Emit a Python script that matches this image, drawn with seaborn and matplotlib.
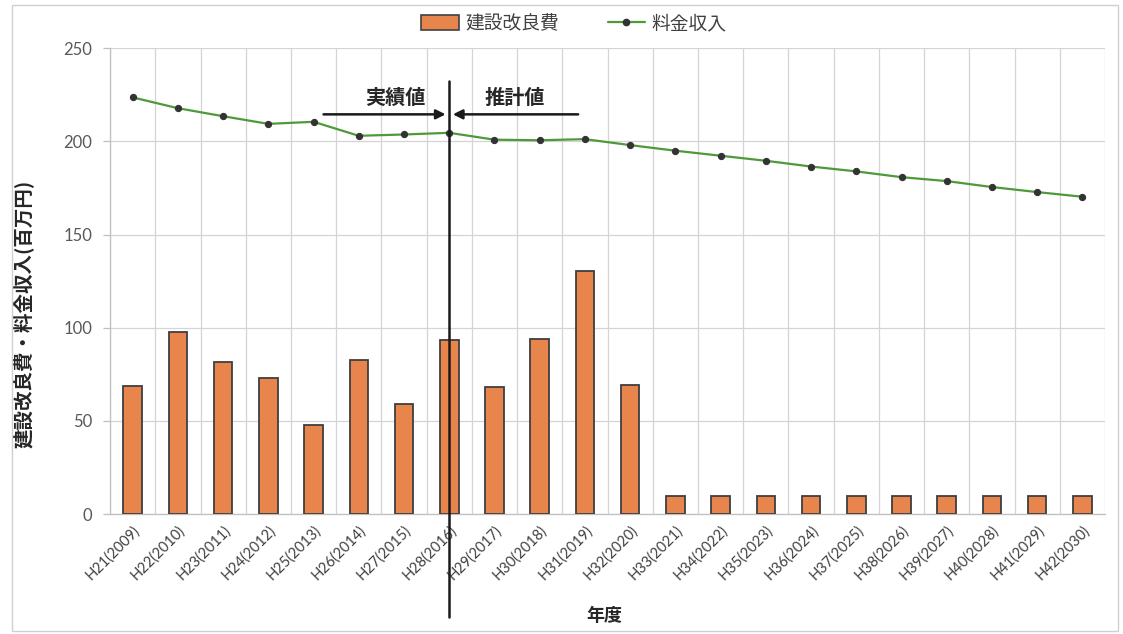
import numpy as np
import pandas as pd
import matplotlib
matplotlib.use("Agg")
import matplotlib.pyplot as plt
import matplotlib.transforms as mtransforms
from matplotlib.lines import Line2D
from matplotlib.patches import Patch, Rectangle
import seaborn as sns

# Fiscal years (Japanese era + western year)
years = ["H21(2009)", "H22(2010)", "H23(2011)", "H24(2012)", "H25(2013)",
         "H26(2014)", "H27(2015)", "H28(2016)", "H29(2017)", "H30(2018)",
         "H31(2019)", "H32(2020)", "H33(2021)", "H34(2022)", "H35(2023)",
         "H36(2024)", "H37(2025)", "H38(2026)", "H39(2027)", "H40(2028)",
         "H41(2029)", "H42(2030)"]

# Construction / improvement cost (million yen)
construction_cost = [68.7, 98.0, 81.4, 73.0, 47.8, 82.8, 59.1, 93.7, 68.2, 94.1,
                     130.5, 69.4, 10.0, 10.0, 10.0, 10.0, 10.0, 10.0, 10.0, 10.0,
                     10.0, 10.0]

# Water charge revenue (million yen)
charge_revenue = [223.6, 217.8, 213.5, 209.4, 210.5, 203.0, 203.7, 204.6, 200.9,
                  200.6, 201.2, 198.0, 195.0, 192.3, 189.6, 186.5, 183.9, 180.8,
                  178.7, 175.5, 172.8, 170.3]

y_ticks = [0, 50, 100, 150, 200, 250]
split_year = "H28(2016)"

sns.set_theme(style="white")
plt.rcParams["font.family"] = ["Noto Sans CJK JP", "DejaVu Sans"]
num_font = ["Lato", "Noto Sans CJK JP", "DejaVu Sans"]

bar_color = "#E8854C"
bar_edge = "#3F3F3F"
line_color = "#4E9A3A"
marker_color = "#333333"
grid_color = "#D4D4D4"
text_gray = "#595959"

df = pd.DataFrame({"year": years, "cost": construction_cost, "revenue": charge_revenue})
df["pos"] = np.arange(len(years))

fig = plt.figure(figsize=(11.23, 6.34), dpi=100)
ax = fig.add_axes([0.098, 0.189, 0.886, 0.735])

sns.barplot(data=df, x="year", y="cost", order=years, color=bar_color,
            width=0.41, edgecolor=bar_edge, linewidth=1.3, saturation=1,
            ax=ax, zorder=3)
sns.lineplot(data=df, x="pos", y="revenue", color=line_color, linewidth=1.6,
             marker="o", markersize=4.5, markerfacecolor=marker_color,
             markeredgecolor=marker_color, ax=ax, zorder=4)

n = len(years)
ax.set_xlim(-0.5, n - 0.5)
ax.set_ylim(0, 250)
ax.set_yticks(y_ticks)
ax.set_yticklabels([str(v) for v in y_ticks], family=num_font, fontsize=12,
                   color=text_gray)
ax.set_xticks(np.arange(n))
ax.set_xticklabels(years, rotation=45, ha="right", rotation_mode="anchor",
                   family=num_font, fontsize=10.5, color="#404040")
shift = mtransforms.ScaledTranslation(-4 / 72, -2 / 72, fig.dpi_scale_trans)
for lbl in ax.get_xticklabels():
    lbl.set_transform(lbl.get_transform() + shift)
ax.set_xticks(np.arange(n + 1) - 0.5, minor=True)

# Gridlines: horizontal at each value step, vertical at category boundaries
ax.grid(False)
ax.yaxis.grid(True, color=grid_color, linewidth=0.9, zorder=0)
ax.xaxis.grid(True, which="minor", color=grid_color, linewidth=0.9, zorder=0)
ax.set_axisbelow(True)

ax.tick_params(axis="x", which="major", length=0, pad=6)
ax.tick_params(axis="x", which="minor", length=5, color="#BFBFBF", width=0.9)
ax.tick_params(axis="y", which="major", length=5, color="#BFBFBF", width=0.9,
               left=True, pad=8)
for side in ["top", "right"]:
    ax.spines[side].set_visible(False)
for side in ["left", "bottom"]:
    ax.spines[side].set_color("#BFBFBF")
    ax.spines[side].set_linewidth(0.9)

ax.set_xlabel("年度", fontsize=13, fontweight="bold", color="#262626")
ax.xaxis.set_label_coords(0.497, -0.198)
ax.set_ylabel("建設改良費・料金収入(百万円)", fontsize=14, fontweight="bold",
              color="#262626")
ax.yaxis.set_label_coords(-0.077, 0.43)

# Boundary between actual and estimated values
xs = years.index(split_year)
ax.plot([xs, xs], [0.929, -0.221], transform=ax.get_xaxis_transform(),
        color="#1A1A1A", linewidth=1.8, clip_on=False, zorder=6)

arrow_y = 214.5
ax.annotate("", xy=(xs - 0.08, arrow_y), xytext=(xs - 2.78, arrow_y),
            arrowprops=dict(arrowstyle="-|>", color="#1A1A1A", lw=1.8,
                            mutation_scale=14, shrinkA=0, shrinkB=0), zorder=7)
ax.annotate("", xy=(xs + 0.08, arrow_y), xytext=(xs + 2.85, arrow_y),
            arrowprops=dict(arrowstyle="-|>", color="#1A1A1A", lw=1.8,
                            mutation_scale=14, shrinkA=0, shrinkB=0), zorder=7)
ax.text(xs - 1.2, 223.5, "実績値", ha="center", va="center", fontsize=14.5,
        fontweight="bold", color="#262626")
ax.text(xs + 1.45, 223.5, "推計値", ha="center", va="center", fontsize=14.5,
        fontweight="bold", color="#262626")

handles = [Patch(facecolor=bar_color, edgecolor=bar_edge, linewidth=1.2),
           Line2D([0], [0], color=line_color, linewidth=1.6, marker="o",
                  markersize=4.5, markerfacecolor=marker_color,
                  markeredgecolor=marker_color)]
fig.legend(handles, ["建設改良費", "料金収入"], loc="center",
           bbox_to_anchor=(0.511, 0.963), ncol=2, frameon=False, fontsize=13.5,
           handlelength=2.0, handleheight=0.8, columnspacing=2.6,
           handletextpad=0.35, labelcolor="#404040")

# Light chart-area border
fig.patches.append(Rectangle((12 / 1123, 3 / 634), 1106 / 1123, 626 / 634,
                             transform=fig.transFigure, fill=False,
                             edgecolor="#D0D0D0", linewidth=1.0))

fig.savefig("out.png", dpi=100)
